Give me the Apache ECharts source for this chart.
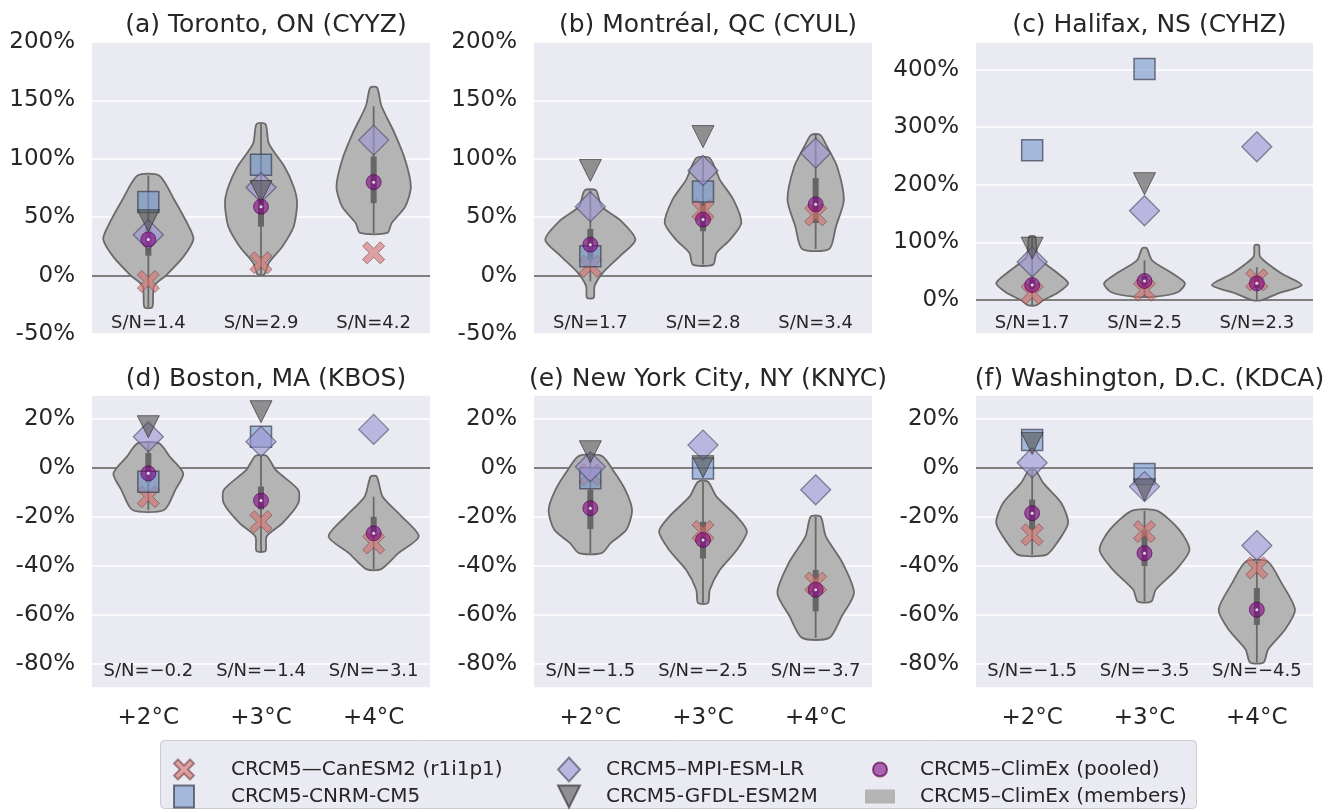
<!DOCTYPE html>
<html>
<head>
<meta charset="utf-8">
<script src="https://cdn.jsdelivr.net/npm/echarts@6/dist/echarts.min.js"></script>
<style>
  html, body { margin: 0; padding: 0; background: #fff; }
  #chart { width: 1341px; height: 812px; }
</style>
</head>
<body>
<div id="chart"></div>
<script>
// categories / titles
const warming = ['+2°C', '+3°C', '+4°C'];
const titles = [
  '(a) Toronto, ON (CYYZ)', '(b) Montréal, QC (CYUL)', '(c) Halifax, NS (CYHZ)',
  '(d) Boston, MA (KBOS)', '(e) New York City, NY (KNYC)', '(f) Washington, D.C. (KDCA)'
];

// driving-model changes (%), one row per panel a..f, one value per warming level
const canesm2 = [[-5, 11, 19.5], [8, 56, 52], [11.6, 17, 35], [-11.8, -22, -30.7], [-3, -26, -47], [-27.3, -26, -40.8]];
const cnrm = [[63, 95, null], [16.5, 72, null], [260, 401, null], [-5.7, 12.6, null], [-4.3, -0.3, null], [11.3, -2.6, null]];
const mpi = [[35, 75.5, 116], [59, 90, 105], [66, 155, 266], [12.6, 10.6, 15.6], [0.4, 9.2, -9], [2, -7.7, -31.7]];
const gfdl = [[47, 72, null], [90, 119, null], [90, 202, null], [16.7, 22.8, null], [6.5, 0.4, null], [9.9, -9, null]];
const pooled = [[31, 59, 80], [26.5, 48, 61], [26, 33, 29], [-2.3, -13.4, -26.7], [-16.5, -29.4, -49.7], [-18.5, -34.8, -57.8]];
const snRatio = [[1.4, 2.9, 4.2], [1.7, 2.8, 3.4], [1.7, 2.5, 2.3], [-0.2, -1.4, -3.1], [-1.5, -2.5, -3.7], [-1.5, -3.5, -4.5]];

// ClimEx member distributions: violin outline [value %, half width in category units], top to bottom
const violinA = [
  [[85.7, 0.096], [65, 0.23], [42, 0.36], [31, 0.40], [16, 0.31], [0, 0.155], [-9, 0.05], [-27, 0.035]],
  [[129.7, 0.04], [113, 0.07], [93, 0.21], [76, 0.29], [62, 0.32], [42, 0.29], [25, 0.19], [11, 0.07], [1, 0.03]],
  [[161, 0.03], [145, 0.07], [122, 0.185], [99, 0.28], [76, 0.33], [59, 0.28], [45, 0.16], [36.5, 0.12]]
];
const violinB = [
  [[72.9, 0.05], [59, 0.1], [47.9, 0.26], [30.8, 0.40], [16.5, 0.26], [2.3, 0.11], [-9, 0.037], [-19, 0.03]],
  [[100.6, 0.06], [82, 0.15], [65, 0.27], [45, 0.34], [30.8, 0.24], [19.4, 0.12], [9.4, 0.09]],
  [[120.5, 0.04], [110.5, 0.1], [93.4, 0.19], [65, 0.25], [42, 0.18], [22.8, 0.12]]
];
const violinC = [
  [[110, 0.027], [75, 0.05], [49, 0.21], [29, 0.32], [11.6, 0.22], [0, 0.1], [-8.7, 0.04]],
  [[90, 0.02], [69, 0.067], [46, 0.25], [29, 0.36], [14, 0.30], [5.8, 0.1]],
  [[95, 0.02], [75, 0.03], [46, 0.22], [26, 0.40], [11.6, 0.19], [0, 0.045]]
];
const violinD = [
  [[9.9, 0.096], [4.5, 0.19], [-2.3, 0.31], [-9, 0.24], [-17.2, 0.14]],
  [[4.8, 0.05], [-0.9, 0.13], [-9, 0.33], [-14.5, 0.33], [-22.6, 0.19], [-28, 0.05], [-33.9, 0.04]],
  [[-3.6, 0.027], [-11.8, 0.08], [-19.9, 0.25], [-28, 0.40], [-34.8, 0.22], [-41.3, 0.067]]
];
const violinE = [
  [[4.8, 0.10], [-0.9, 0.2], [-9, 0.31], [-17.2, 0.37], [-25.3, 0.32], [-30.7, 0.18], [-34.8, 0.1]],
  [[-5.7, 0.044], [-11.8, 0.12], [-19.9, 0.30], [-26, 0.39], [-33.5, 0.30], [-41.6, 0.15], [-49.7, 0.06], [-55.1, 0.044]],
  [[-19.9, 0.044], [-28, 0.09], [-38.9, 0.24], [-51, 0.34], [-60.6, 0.23], [-69.3, 0.12]]
];
const violinF = [
  [[-0.9, 0.027], [-6.3, 0.1], [-14.5, 0.26], [-22.6, 0.32], [-30.7, 0.22], [-35.5, 0.125]],
  [[-17.5, 0.11], [-25.3, 0.31], [-33.5, 0.40], [-41.6, 0.28], [-49.7, 0.1], [-54.5, 0.06]],
  [[-38.2, 0.096], [-47, 0.22], [-57.8, 0.34], [-66, 0.25], [-74, 0.1], [-79.3, 0.06]]
];
// inner box: [whisker low, q1, q3, whisker high]
const boxA = [[-27, 17, 42, 85.7], [1, 42, 68, 129.7], [36.5, 62, 102, 145]];
const boxB = [[-5, 14, 40, 72.9], [9.4, 38, 62, 100.6], [22.8, 45, 83.5, 120.5]];
const boxC = [[-8.7, 18, 36, 110], [5.8, 22, 42, 69], [0, 20, 40, 57]];
const boxD = [[-17.2, -6, 6, 9.9], [-33.9, -17, -7.7, 4.8], [-41.3, -28, -20, -11.8]];
const boxE = [[-34.8, -25, -9, 4.8], [-55.1, -37, -22, -5.7], [-69.3, -58.5, -41.6, -19.9]];
const boxF = [[-35.5, -25, -13, -0.9], [-54.5, -40, -25.3, -17.5], [-79.3, -64, -49, -38.2]];

const violins = [violinA, violinB, violinC, violinD, violinE, violinF];
const boxes = [boxA, boxB, boxC, boxD, boxE, boxF];

// layout of the six panels
const panels = [
  { left: 92, top: 42, width: 338, height: 292, min: -50, max: 200, step: 50, titleTop: 8, bottomRow: false, snOff: 11 },
  { left: 534, top: 42, width: 338, height: 292, min: -50, max: 200, step: 50, titleTop: 8, bottomRow: false, snOff: 11 },
  { left: 976, top: 42, width: 337, height: 292, min: -59, max: 448, step: 100, titleTop: 8, bottomRow: false, snOff: 11 },
  { left: 92, top: 395, width: 338, height: 293, min: -89.7, max: 29.6, step: 20, titleTop: 362, bottomRow: true, snOff: 17 },
  { left: 534, top: 395, width: 338, height: 293, min: -89.7, max: 29.6, step: 20, titleTop: 362, bottomRow: true, snOff: 17 },
  { left: 976, top: 395, width: 337, height: 293, min: -89.7, max: 29.6, step: 20, titleTop: 362, bottomRow: true, snOff: 17 }
];

const names = {
  can: 'CRCM5—CanESM2 (r1i1p1)',
  cnrm: 'CRCM5-CNRM-CM5',
  mpi: 'CRCM5–MPI-ESM-LR',
  gfdl: 'CRCM5-GFDL-ESM2M',
  pooled: 'CRCM5–ClimEx (pooled)',
  members: 'CRCM5–ClimEx (members)'
};
const xSymbol = 'path://M2,0L5,3L8,0L10,2L7,5L10,8L8,10L5,7L2,10L0,8L3,5L0,2Z';
const triSymbol = 'path://M0,0L10,0L5,10Z';
const textColor = '#262626';
const font = 'DejaVu Sans';

const chart = echarts.init(document.getElementById('chart'), null, { renderer: 'canvas' });

function toPoints(vals) {
  const out = [];
  vals.forEach((v, i) => { if (v !== null) out.push([i, v]); });
  return out;
}

function violinRender(shapes, stats) {
  return function (params, api) {
    const i = params.dataIndex;
    const prof = shapes[i];
    const band = api.size([1, 0])[0];
    const right = prof.map(p => { const c = api.coord([i, p[0]]); return [c[0] + p[1] * band, c[1]]; });
    const left = prof.slice().reverse().map(p => { const c = api.coord([i, p[0]]); return [c[0] - p[1] * band, c[1]]; });
    const b = stats[i];
    const lo = api.coord([i, b[0]]), q1 = api.coord([i, b[1]]), q3 = api.coord([i, b[2]]), hi = api.coord([i, b[3]]);
    return {
      type: 'group',
      children: [
        { type: 'polygon', shape: { points: right.concat(left), smooth: 0.25 },
          style: { fill: '#b4b4b4', stroke: '#6a6a6a', lineWidth: 1.8 } },
        { type: 'line', shape: { x1: lo[0], y1: lo[1], x2: hi[0], y2: hi[1] },
          style: { stroke: '#6a6a6a', lineWidth: 1.8 } },
        { type: 'line', shape: { x1: q1[0], y1: q1[1], x2: q3[0], y2: q3[1] },
          style: { stroke: '#666666', lineWidth: 6 } }
      ]
    };
  };
}

function snRender(vals, off, minV) {
  return function (params, api) {
    const i = params.dataIndex;
    const c = api.coord([i, minV]);
    const v = vals[i];
    const txt = 'S/N=' + (v < 0 ? '\u2212' + Math.abs(v).toFixed(1) : v.toFixed(1));
    return {
      type: 'text',
      style: { x: c[0], y: c[1] - off, text: txt, fill: textColor, fontSize: 18, fontFamily: font,
               align: 'center', verticalAlign: 'middle' }
    };
  };
}

const grid = [], xAxis = [], yAxis = [], title = [], series = [];

panels.forEach((p, k) => {
  grid.push({ left: p.left, top: p.top, width: p.width, height: p.height, show: true,
              backgroundColor: '#eaeaf2', borderWidth: 0 });
  title.push({ text: titles[k], left: p.left + p.width / 2, top: p.titleTop, textAlign: 'center',
               textStyle: { fontSize: 25, fontWeight: 'normal', color: textColor, fontFamily: font } });
  xAxis.push({ type: 'category', gridIndex: k, data: warming,
               axisLine: { show: false }, axisTick: { show: false }, splitLine: { show: false },
               axisLabel: { show: p.bottomRow, fontSize: 23, color: textColor, margin: 19, fontFamily: font } });
  const yAx = { type: 'value', gridIndex: k, min: p.min, max: p.max,
               axisLine: { show: false }, axisTick: { show: false },
               splitLine: { lineStyle: { color: '#ffffff', width: 1.5 } },
               axisLabel: { fontSize: 23, color: textColor, margin: 17, fontFamily: font,
                            showMinLabel: p.min % p.step === 0, showMaxLabel: p.max % p.step === 0,
                            formatter: v => (Math.abs(v % p.step) < 1e-6 ? v + '%' : '') } };
  if (p.min % p.step === 0) yAx.interval = p.step;
  else { yAx.minInterval = p.step; yAx.maxInterval = p.step; }
  yAxis.push(yAx);

  const ax = { xAxisIndex: k, yAxisIndex: k };
  // zero reference line
  series.push(Object.assign({ type: 'scatter', data: [], z: 1, silent: true,
    markLine: { z: 1, silent: true, symbol: 'none', label: { show: false },
                lineStyle: { color: '#7f7f7f', width: 1.8, type: 'solid' }, data: [{ yAxis: 0 }] } }, ax));
  series.push(Object.assign({ type: 'custom', name: names.members, z: 2,
    itemStyle: { color: '#b4b4b4' },
    renderItem: violinRender(violins[k], boxes[k]),
    encode: { x: 0, y: [1, 2] },
    data: violins[k].map((v, i) => [i, v[0][0], v[v.length - 1][0]]) }, ax));
  series.push(Object.assign({ type: 'scatter', name: names.can, z: 3, symbol: xSymbol, symbolSize: 22,
    itemStyle: { color: 'rgba(211,112,110,0.75)', borderColor: 'rgba(110,60,60,0.7)', borderWidth: 1 },
    data: toPoints(canesm2[k]) }, ax));
  series.push(Object.assign({ type: 'scatter', name: names.cnrm, z: 4, symbol: 'rect', symbolSize: 21,
    itemStyle: { color: 'rgba(119,151,207,0.75)', borderColor: 'rgba(55,60,75,0.85)', borderWidth: 1.5 },
    data: toPoints(cnrm[k]) }, ax));
  series.push(Object.assign({ type: 'scatter', name: names.mpi, z: 5, symbol: 'diamond', symbolSize: 30,
    itemStyle: { color: 'rgba(158,150,211,0.78)', borderColor: 'rgba(70,70,95,0.75)', borderWidth: 1.3 },
    data: toPoints(mpi[k]) }, ax));
  series.push(Object.assign({ type: 'scatter', name: names.gfdl, z: 6, symbol: triSymbol, symbolSize: 22,
    itemStyle: { color: 'rgba(82,82,82,0.75)', borderColor: 'rgba(45,45,45,0.8)', borderWidth: 1 },
    data: toPoints(gfdl[k]) }, ax));
  series.push(Object.assign({ type: 'scatter', name: names.pooled, z: 7, symbol: 'circle', symbolSize: 15,
    itemStyle: { color: 'rgba(128,0,128,0.72)', borderColor: 'rgba(80,0,80,0.8)', borderWidth: 1 },
    data: toPoints(pooled[k]) }, ax));
  series.push(Object.assign({ type: 'scatter', z: 8, symbol: 'circle', symbolSize: 3, silent: true,
    itemStyle: { color: '#ffffff' }, data: toPoints(pooled[k]) }, ax));
  series.push(Object.assign({ type: 'custom', z: 9, silent: true,
    renderItem: snRender(snRatio[k], p.snOff, p.min),
    data: snRatio[k].map((v, i) => [i, p.min]) }, ax));
});

const legendText = { fontSize: 20, color: textColor, fontFamily: font, lineHeight: 27 };
const legend = [
  { orient: 'vertical', left: 173, top: 756, itemGap: 0, padding: 0, selectedMode: false,
    itemWidth: 20, itemHeight: 22, textStyle: Object.assign({ padding: [0, 0, 0, 32] }, legendText),
    data: [{ name: names.can, icon: xSymbol }, { name: names.cnrm, icon: 'rect' }] },
  { orient: 'vertical', left: 557, top: 756, itemGap: 0, padding: 0, selectedMode: false,
    itemWidth: 22, itemHeight: 24, textStyle: Object.assign({ padding: [0, 0, 0, 21] }, legendText),
    data: [{ name: names.mpi, icon: 'diamond' }, { name: names.gfdl, icon: triSymbol }] },
  { orient: 'vertical', left: 865, top: 756, itemGap: 0, padding: 0, selectedMode: false,
    itemWidth: 30, itemHeight: 14, textStyle: Object.assign({ padding: [0, 0, 0, 20] }, legendText),
    data: [{ name: names.pooled, icon: 'circle' },
           { name: names.members, icon: 'rect', itemStyle: { color: '#b4b4b4', borderWidth: 0 } }] }
];

const option = {
  animation: false,
  backgroundColor: '#ffffff',
  textStyle: { fontFamily: font },
  graphic: [{ type: 'rect', left: 160, top: 740, z: -1,
              shape: { width: 1036, height: 68, r: 4 },
              style: { fill: '#eaeaf2', stroke: '#cccccc', lineWidth: 1 } }],
  title: title,
  legend: legend,
  grid: grid,
  xAxis: xAxis,
  yAxis: yAxis,
  series: series
};
chart.setOption(option);
</script>
</body>
</html>
